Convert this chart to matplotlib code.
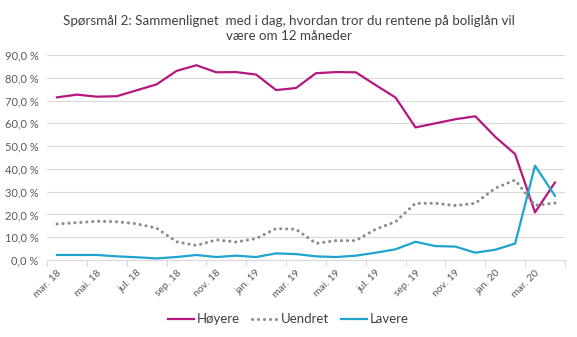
import numpy as np
import matplotlib
matplotlib.use('Agg')
import matplotlib.pyplot as plt

# monthly survey, mar. 18 - apr. 20
months = ['mar. 18', 'apr. 18', 'mai. 18', 'jun. 18', 'jul. 18', 'aug. 18', 'sep. 18', 'okt. 18',
          'nov. 18', 'des. 18', 'jan. 19', 'feb. 19', 'mar. 19', 'apr. 19', 'mai. 19', 'jun. 19',
          'jul. 19', 'aug. 19', 'sep. 19', 'okt. 19', 'nov. 19', 'des. 19', 'jan. 20', 'feb. 20',
          'mar. 20', 'apr. 20']

hoyere = [71.4, 72.6, 71.7, 71.9, 74.5, 77.1, 83.0, 85.5, 82.4, 82.5, 81.4, 74.6, 75.5,
          82.0, 82.5, 82.4, 76.8, 71.3, 58.2, 60.0, 61.8, 63.1, 54.1, 46.5, 20.9, 34.0]
uendret = [15.8, 16.4, 17.0, 16.8, 15.9, 14.0, 8.0, 6.4, 8.8, 7.9, 9.4, 13.8, 13.5,
           7.3, 8.5, 8.5, 13.5, 16.8, 24.9, 24.9, 23.9, 24.9, 31.5, 35.1, 24.0, 25.0]
lavere = [2.2, 2.2, 2.2, 1.6, 1.2, 0.7, 1.3, 2.2, 1.3, 1.9, 1.3, 2.9, 2.6,
          1.6, 1.3, 1.9, 3.2, 4.7, 8.0, 6.1, 5.9, 3.2, 4.5, 7.2, 41.4, 28.2]

title = 'Spørsmål 2: Sammenlignet  med i dag, hvordan tror du rentene på boliglån vil\nvære om 12 måneder'

plt.rcParams['font.family'] = ['Lato', 'DejaVu Sans']

fig = plt.figure(figsize=(5.77, 3.37), dpi=100)
ax = fig.add_axes([0.0815, 0.2285, 0.8975, 0.6083])

x = np.arange(len(months))
ax.plot(x, hoyere, color='#B5177E', lw=1.6, label='Høyere')
ax.plot(x, uendret, color='#8C8C8C', lw=2.2, linestyle=(0, (0.05, 1.9)),
        dash_capstyle='round', label='Uendret')
ax.plot(x, lavere, color='#1FA3CF', lw=1.6, label='Lavere')

ax.set_xlim(-0.5, len(months) - 0.5)
ax.set_ylim(0, 90)
yt = np.arange(0, 91, 10)
ax.set_yticks(yt)
ax.set_yticklabels([('%.1f %%' % v).replace('.', ',') for v in yt])
ax.yaxis.set_tick_params(length=0, labelsize=8, labelcolor='#595959', pad=6)
ax.yaxis.grid(True, color='#D9D9D9', lw=0.8)
ax.set_axisbelow(True)

# tick marks between months, labels at every second month
ax.set_xticks(np.arange(-0.5, len(months), 2))
ax.set_xticklabels([])
ax.tick_params(axis='x', which='major', length=4, color='#D9D9D9', width=0.8)
ax.set_xticks(x[::2], minor=True)
ax.set_xticklabels(months[::2], minor=True, rotation=45, ha='right', va='top',
                   rotation_mode='anchor')
ax.tick_params(axis='x', which='minor', length=0, labelsize=7.5, labelcolor='#595959', pad=6)

for s in ['left', 'right', 'top']:
    ax.spines[s].set_visible(False)
ax.spines['bottom'].set_color('#D9D9D9')
ax.spines['bottom'].set_linewidth(0.8)

fig.text(0.5, 0.955, title, ha='center', va='top', fontsize=9.6, color='#404040',
         linespacing=1.25)

fig.legend(loc='lower center', bbox_to_anchor=(0.5, 0.0), ncol=3, frameon=False,
           fontsize=9.5, handlelength=2.0, handletextpad=0.2, columnspacing=0.9,
           labelcolor='#404040')

fig.savefig('out.png', dpi=100)
